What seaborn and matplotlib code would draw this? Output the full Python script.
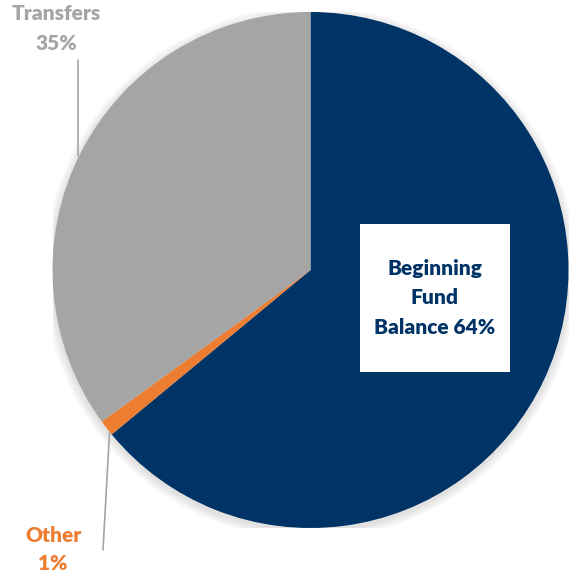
import matplotlib
matplotlib.use("Agg")
import matplotlib.pyplot as plt
import seaborn as sns
from matplotlib.patches import Rectangle, Circle
from matplotlib.lines import Line2D

categories = ["Beginning Fund Balance", "Other", "Transfers"]
values = [64, 1, 35]
pct_labels = ["64%", "1%", "35%"]
colors = ["#003366", "#ED7D31", "#A5A5A5"]

sns.set_theme(style="white")
plt.rcParams["font.family"] = ["Lato", "DejaVu Sans"]

W, H = 570, 578
fig = plt.figure(figsize=(W / 100, H / 100), dpi=100)
fig.patch.set_facecolor("white")

# pie occupies pixel box x 52.5..568.5, y 12..528 (from top)
L, R, T, B = 52.5, 568.5, 12, 528
ax = fig.add_axes([L / W, 1 - B / H, (R - L) / W, (B - T) / H])

palette = sns.color_palette(colors)
ax.pie(values, colors=palette, startangle=90, counterclock=False, radius=1,
       wedgeprops=dict(linewidth=0, zorder=2))

# soft shadow
for i in range(10):
    r = 1.0 + 0.0035 * (i + 1)
    ax.add_patch(Circle((0, -0.01), r, color="black", alpha=0.012, lw=0, zorder=0))

ax.set_xlim(-1, 1)
ax.set_ylim(-1, 1)
ax.set_aspect("equal")
ax.axis("off")

def fx(px):
    return px / W

def fy(py):
    return 1 - py / H

FS = 15
FW = "heavy"

# Transfers label + leader
fig.text(fx(56), fy(14), "Transfers", ha="center", va="center", fontsize=FS,
         fontweight=FW, color="#A5A5A5")
fig.text(fx(56), fy(43), pct_labels[2], ha="center", va="center", fontsize=FS,
         fontweight=FW, color="#A5A5A5")
fig.add_artist(Line2D([fx(78), fx(78)], [fy(60), fy(156)], color="#A5A5A5", lw=1.2))

# Other label + leader
fig.text(fx(53), fy(535), "Other", ha="center", va="center", fontsize=FS,
         fontweight=FW, color="#ED7D31")
fig.text(fx(53), fy(563), pct_labels[1], ha="center", va="center", fontsize=FS,
         fontweight=FW, color="#ED7D31")
fig.add_artist(Line2D([fx(109.5), fx(103)], [fy(433), fy(550)], color="#A5A5A5", lw=1.2))

# Beginning Fund Balance box
fig.add_artist(Rectangle((fx(360), fy(372)), (510 - 360) / W, (372 - 224) / H,
                         transform=fig.transFigure, facecolor="white", edgecolor="none"))
fig.text(fx(435), fy(269), "Beginning", ha="center", va="center", fontsize=FS,
         fontweight=FW, color="#003366")
fig.text(fx(435), fy(298), "Fund", ha="center", va="center", fontsize=FS,
         fontweight=FW, color="#003366")
fig.text(fx(435), fy(327), "Balance " + pct_labels[0], ha="center", va="center",
         fontsize=FS, fontweight=FW, color="#003366")

fig.savefig("out.png", dpi=100)
